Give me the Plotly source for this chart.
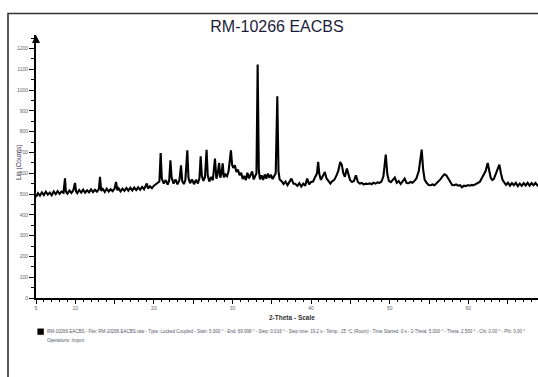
import plotly.graph_objects as go

# ---- data (2-Theta in degrees, Lin counts) ----
two_theta = [
    5.0, 5.25, 5.5, 5.75, 6.0, 6.25, 6.5, 6.75, 7.0, 7.25,
    7.5, 7.75, 8.0, 8.25, 8.5, 8.69, 8.8, 9.0, 9.25, 9.5,
    9.75, 9.96, 10.1, 10.25, 10.5, 10.75, 11.0, 11.25, 11.5, 11.75,
    12.0, 12.25, 12.5, 12.75, 13.0, 13.14, 13.3, 13.5, 13.75, 14.0,
    14.25, 14.5, 14.75, 15.0, 15.18, 15.35, 15.5, 15.75, 16.0, 16.25,
    16.5, 16.75, 17.0, 17.25, 17.5, 17.75, 18.0, 18.25, 18.5, 18.75,
    19.1, 19.25, 19.5, 19.75, 20.0, 20.25, 20.5, 20.7, 20.86, 21.0,
    21.25, 21.5, 21.75, 21.95, 22.1, 22.25, 22.5, 22.75, 23.0, 23.25,
    23.45, 23.6, 23.8, 24.0, 24.25, 24.4, 24.6, 24.85, 25.1, 25.35,
    25.6, 25.8, 25.95, 26.1, 26.3, 26.5, 26.7, 26.85, 27.05, 27.3,
    27.5, 27.77, 27.95, 28.1, 28.3, 28.45, 28.6, 28.75, 28.9, 29.1,
    29.3, 29.5, 29.8, 29.95, 30.1, 30.3, 30.5, 30.7, 30.9, 31.1,
    31.3, 31.5, 31.7, 31.9, 32.1, 32.3, 32.5, 32.7, 32.9, 33.05,
    33.2, 33.35, 33.5, 33.7, 33.9, 34.1, 34.3, 34.5, 34.7, 34.9,
    35.1, 35.3, 35.5, 35.7, 35.85, 36.0, 36.25, 36.5, 36.75, 37.0,
    37.25, 37.5, 37.75, 38.0, 38.25, 38.5, 38.75, 39.0, 39.25, 39.5,
    39.75, 40.0, 40.25, 40.5, 40.75, 40.9, 41.05, 41.25, 41.5, 41.75,
    41.95, 42.2, 42.45, 42.7, 42.95, 43.2, 43.45, 43.7, 43.9, 44.1,
    44.3, 44.55, 44.75, 44.95, 45.2, 45.45, 45.7, 45.95, 46.2, 46.45,
    46.7, 46.95, 47.2, 47.45, 47.7, 47.95, 48.2, 48.45, 48.7, 48.95,
    49.2, 49.5, 49.7, 49.9, 50.15, 50.4, 50.65, 50.9, 51.15, 51.4,
    51.65, 51.9, 52.15, 52.4, 52.65, 52.9, 53.15, 53.4, 53.7, 54.07,
    54.25, 54.45, 54.7, 54.95, 55.2, 55.45, 55.7, 55.95, 56.2, 56.45,
    56.7, 56.95, 57.2, 57.45, 57.7, 57.95, 58.2, 58.45, 58.7, 58.95,
    59.2, 59.45, 59.7, 59.95, 60.2, 60.45, 60.7, 60.95, 61.2, 61.45,
    61.7, 61.95, 62.2, 62.47, 62.65, 62.85, 63.05, 63.25, 63.45, 63.7,
    63.95, 64.15, 64.35, 64.55, 64.8, 65.05, 65.3, 65.55, 65.8, 66.05,
    66.3, 66.55, 66.8, 67.05, 67.3, 67.55, 67.8, 68.05, 68.3, 68.55,
    68.8, 69.05, 69.3, 69.55, 69.8, 70.0,
]
lin_counts = [
    486, 504, 492, 508, 495, 511, 497, 507, 494, 512,
    499, 514, 501, 512, 506, 575, 512, 502, 517, 505,
    518, 553, 512, 504, 519, 507, 521, 506, 518, 508,
    522, 509, 520, 511, 523, 582, 515, 524, 510, 526,
    512, 523, 514, 526, 558, 518, 528, 513, 526, 515,
    529, 516, 530, 517, 531, 519, 532, 520, 534, 523,
    551, 526, 537, 528, 540, 548, 552, 560, 697, 575,
    550, 567, 545, 565, 662, 580, 550, 570, 546, 567,
    638, 563, 548, 566, 710, 576, 552, 570, 547, 568,
    551, 577, 681, 588, 563, 582, 713, 590, 560, 582,
    566, 670, 574, 594, 649, 578, 597, 647, 580, 594,
    586, 610, 710, 640, 625, 638, 606, 617, 590, 602,
    572, 587, 567, 602, 575, 590, 608, 570, 588, 600,
    1123, 612, 570, 590, 568, 594, 574, 598, 578, 592,
    572, 590, 600, 970, 610, 570, 562, 548, 560, 543,
    558, 574, 550, 548, 539, 552, 536, 550, 540, 574,
    546, 558, 560, 578, 600, 654, 595, 568, 587, 606,
    576, 562, 550, 562, 568, 587, 610, 654, 640, 600,
    583, 622, 595, 568, 558, 563, 590, 558, 550, 553,
    546, 550, 548, 551, 547, 554, 550, 556, 554, 560,
    585, 689, 595, 563, 557, 570, 579, 554, 562, 548,
    564, 574, 553, 552, 558, 554, 563, 575, 610, 713,
    620, 568, 554, 543, 542, 546, 542, 550, 562, 570,
    584, 595, 590, 573, 560, 543, 542, 546, 540, 542,
    532, 540, 538, 543, 540, 544, 542, 548, 550, 558,
    575, 590, 610, 649, 610, 578, 567, 573, 592, 615,
    641, 600, 568, 557, 544, 554, 540, 552, 542, 554,
    538, 550, 539, 552, 541, 554, 540, 552, 542, 553,
    541, 551, 542, 552, 543, 548,
]

x_tick_values = [5, 10, 15, 20, 25, 30, 35, 40, 45, 50, 55, 60, 65]
x_tick_labels = ["5", "10", "", "20", "", "30", "", "40", "", "50", "", "60", ""]
y_tick_values = [0, 100, 200, 300, 400, 500, 600, 700, 800, 900, 1000, 1100, 1200]
y_tick_labels = [str(v) for v in y_tick_values]

title_text = "RM-10266 EACBS"
legend_text = ("RM-10266 EACBS - File: RM-10266 EACBS.raw - Type: Locked Coupled - Start: 5.000 \u00b0 - "
               "End: 69.998 \u00b0 - Step: 0.016 \u00b0 - Step time: 19.2 s - Temp.: 25 \u00b0C (Room) - "
               "Time Started: 0 s - 2-Theta: 5.000 \u00b0 - Theta: 2.500 \u00b0 - Chi: 0.00 \u00b0 - Phi: 0.00 \u00b0")
operations_text = "Operations: Import"

FONT = "Liberation Sans, Arial, sans-serif"
W, H = 538, 377
L, T, B = 36, 35, 79
plot_h = H - T - B
plot_w = W - L


def px_x(px):
    return (px - L) / plot_w


def px_y(py):
    return (H - B - py) / plot_h


fig = go.Figure()
fig.add_trace(go.Scatter(
    x=two_theta, y=lin_counts, mode="lines",
    line=dict(color="black", width=2.1),
    showlegend=False, hoverinfo="skip",
))

fig.update_layout(
    width=W, height=H,
    margin=dict(l=L, r=0, t=T, b=B, pad=0),
    paper_bgcolor="white", plot_bgcolor="white",
    font=dict(family=FONT, color="#333"),
    title=dict(text=title_text, x=px_x(277), xref="paper", xanchor="center",
               y=1 - 26 / H, yref="container", yanchor="middle",
               font=dict(size=16, color="#1c1c3a", family=FONT)),
    showlegend=False,
)

fig.update_xaxes(
    range=[5, 5 + plot_w / 7.86],
    showgrid=False, zeroline=False,
    showline=True, linecolor="black", linewidth=2,
    tickmode="array", tickvals=x_tick_values, ticktext=x_tick_labels,
    ticks="outside", ticklen=4, tickwidth=1.3, tickcolor="black",
    tickfont=dict(size=5, color="#666", family=FONT),
    minor=dict(tickmode="linear", tick0=0, dtick=1, ticks="outside",
               ticklen=2, tickwidth=1.3, tickcolor="black", showgrid=False),
)
fig.update_yaxes(
    range=[0, plot_h / 0.208],
    showgrid=False, zeroline=False,
    showline=True, linecolor="black", linewidth=2,
    tickmode="array", tickvals=y_tick_values, ticktext=y_tick_labels,
    ticks="outside", ticklen=5, tickwidth=1.3, tickcolor="black",
    tickfont=dict(size=5, color="#666", family=FONT),
    minor=dict(tickmode="linear", tick0=0, dtick=50, ticks="outside",
               ticklen=3, tickwidth=1.2, tickcolor="black", showgrid=False),
)

# outer frame (extends beyond the visible page on the right and bottom)
fig.add_shape(type="rect", xref="paper", yref="paper",
              x0=px_x(8), x1=px_x(W + 40), y0=px_y(H + 40), y1=px_y(13.5),
              line=dict(color="#333", width=1.6), fillcolor="rgba(0,0,0,0)", layer="below")

# arrow on top of the y axis
fig.add_annotation(x=0, y=1, xref="paper", yref="paper", text="", showarrow=True,
                   ax=0, ay=6, arrowhead=2, arrowsize=1, arrowwidth=1.6, arrowcolor="black")

# axis titles
fig.add_annotation(x=px_x(13), y=px_y(163), xref="paper", yref="paper",
                   text="Lin (Counts)", textangle=-90, showarrow=False,
                   font=dict(size=6.5, color="#3a3350", family=FONT))
fig.add_annotation(x=px_x(292), y=px_y(322.6), xref="paper", yref="paper",
                   text="<b>2-Theta - Scale</b>", showarrow=False,
                   font=dict(size=6.5, color="#333", family=FONT))

# legend marker + description
fig.add_shape(type="rect", xref="paper", yref="paper",
              x0=px_x(37.7), x1=px_x(43.6), y0=px_y(334.6), y1=px_y(328.8),
              line=dict(color="black", width=0.5), fillcolor="black")
fig.add_annotation(x=px_x(45), y=px_y(331.5), xref="paper", yref="paper",
                   xanchor="left", yanchor="middle", text=legend_text, showarrow=False,
                   font=dict(size=4.5, color="#556", family=FONT))
fig.add_annotation(x=px_x(45), y=px_y(340), xref="paper", yref="paper",
                   xanchor="left", yanchor="middle", text=operations_text, showarrow=False,
                   font=dict(size=4.5, color="#556", family=FONT))

fig.write_html(
    "out.html",
    config={"displayModeBar": False},
    post_script="document.body.style.margin='0';document.body.style.overflow='hidden';",
)
